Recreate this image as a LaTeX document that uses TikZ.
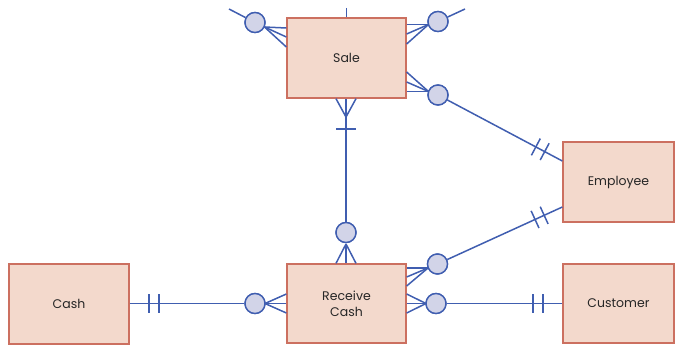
\documentclass[tikz,border=0pt]{standalone}
\usepackage{fontspec}
\setmainfont{Poppins}
\usetikzlibrary{calc}
\definecolor{boxfill}{RGB}{243,217,204}
\definecolor{boxline}{RGB}{204,112,96}
\definecolor{lineblue}{RGB}{64,94,176}
\definecolor{circfill}{RGB}{210,212,232}
\begin{document}
\begin{tikzpicture}[x=1pt,y=-1pt,
  entity/.style={draw=boxline, fill=boxfill, line width=1.3pt, minimum height=80pt, inner sep=0pt, align=center, font=\fontsize{12.5}{16}\selectfont, text=black!85},
  opt/.style={circle, draw=lineblue, fill=circfill, line width=1.4pt, minimum size=20pt, inner sep=0pt},
  rel/.style={draw=lineblue, line width=1.5pt},
]
\useasboundingbox (0,0) rectangle (675,345);
% entities
\node[entity, minimum width=119pt] (sale) at (346.5,58) {Sale};
\node[entity, minimum width=119pt, minimum height=79pt] (rc) at (346.5,303.5) {Receive\\Cash};
\node[entity, minimum width=120pt] (cash) at (69,304) {Cash};
\node[entity, minimum width=111pt, minimum height=79pt] (cust) at (618.5,303.5) {Customer};
\node[entity, minimum width=111pt] (emp) at (618.5,182) {Employee};
% optional circles
\node[opt] (c1) at (255,22.5) {};
\node[opt] (c2) at (438,21.5) {};
\node[opt] (c3) at (438,95) {};
\node[opt] (c4) at (346,232.5) {};
\node[opt] (c5) at (255,303.5) {};
\node[opt] (c6) at (437.5,264) {};
\node[opt] (c7) at (436,303.5) {};
% free ends
\coordinate (t1) at (229,9);
\coordinate (t2) at (465,9);
\coordinate (t3) at (346.5,8);
\coordinate (e1) at (emp.west |- 0,161);
\coordinate (e2) at (emp.west |- 0,207);
% apex points
\coordinate (a1) at (264.5,27);
\coordinate (a2) at (428.5,24.5);
\coordinate (a3) at (428.5,91.5);
\coordinate (a4) at (346,117);
\coordinate (a5) at (346,244);
\coordinate (a6) at (428,268);
\coordinate (a7) at (426,303.5);
\coordinate (a8) at (265,303.5);
% outer lines
\draw[rel] (t1) -- (c1);
\draw[rel] (c2) -- (t2);
\draw[rel] (t3) -- (sale.north);
\draw[rel] (c3) -- (e1);
\draw[rel] (c6) -- (e2);
\draw[rel] (cash.east |- c5) -- (c5);
\draw[rel] (c7) -- (cust.west |- c7);
\draw[rel] (a4) -- (c4);
% crow's feet
\foreach \y in {28,37,47} \draw[rel] (a1) -- (sale.west |- 0,\y);
\foreach \y in {24.5,34,44} \draw[rel] (a2) -- (sale.east |- 0,\y);
\foreach \y in {72,82,91.5} \draw[rel] (a3) -- (sale.east |- 0,\y);
\foreach \x in {336,346,356} \draw[rel] (a4) -- (\x,0 |- sale.south);
\foreach \x in {336,346,356} \draw[rel] (a5) -- (\x,0 |- rc.north);
\foreach \y in {268,277,286} \draw[rel] (a6) -- (rc.east |- 0,\y);
\foreach \y in {294,303.5,313} \draw[rel] (a7) -- (rc.east |- 0,\y);
\foreach \y in {294,303.5,313} \draw[rel] (a8) -- (rc.west |- 0,\y);
% redraw circles on top of line ends
\foreach \c in {c1,c2,c3,c4,c5,c6,c7} \node[opt] at (\c) {};
% single bar under Sale
\draw[rel] (336,129) -- (356,129);
% double bars
\foreach \x in {149,159} \draw[rel] (\x,294) -- (\x,313);
\foreach \x in {533,543} \draw[rel] (\x,294) -- (\x,313);
\foreach \d in {20,30} {
  \coordinate (b) at ($(e1)!\d pt!(c3)$);
  \draw[rel] ($(b)!9.5pt!90:(e1)$) -- ($(b)!9.5pt!-90:(e1)$);
  \coordinate (b) at ($(e2)!\d pt!(c6)$);
  \draw[rel] ($(b)!9.5pt!90:(e2)$) -- ($(b)!9.5pt!-90:(e2)$);
}
\end{tikzpicture}
\end{document}
